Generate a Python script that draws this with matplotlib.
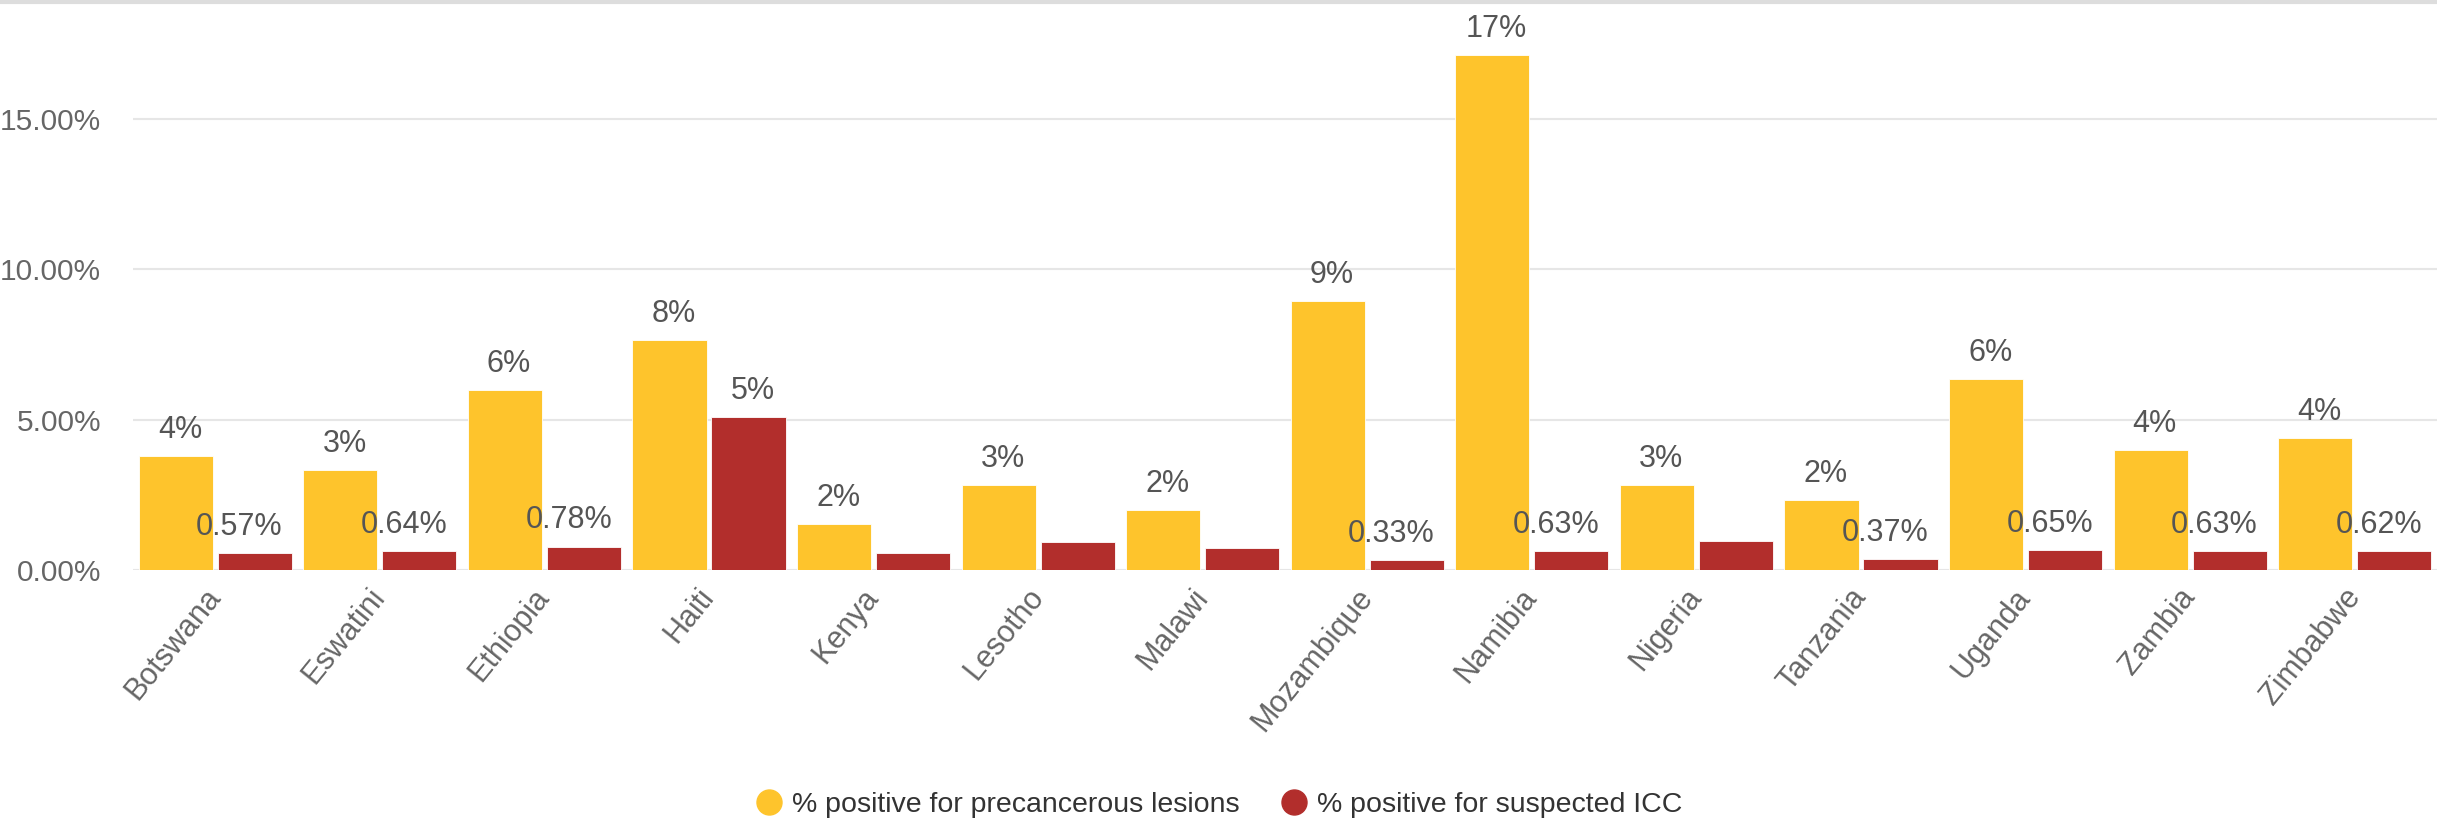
import matplotlib.pyplot as plt
import numpy as np
from matplotlib.lines import Line2D

plt.rcParams['font.family'] = ['Liberation Sans Narrow', 'Liberation Sans', 'DejaVu Sans']

countries = ['Botswana', 'Eswatini', 'Ethiopia', 'Haiti', 'Kenya', 'Lesotho', 'Malawi',
             'Mozambique', 'Namibia', 'Nigeria', 'Tanzania', 'Uganda', 'Zambia', 'Zimbabwe']
precancer = [3.80, 3.32, 6.00, 7.65, 1.53, 2.83, 2.00, 8.96, 17.12, 2.83, 2.33, 6.34, 3.98, 4.39]
icc = [0.57, 0.64, 0.78, 5.10, 0.58, 0.92, 0.74, 0.33, 0.63, 0.98, 0.37, 0.65, 0.63, 0.62]
# some icc labels are hidden because they collide with the neighbouring label
icc_show = [True, True, True, True, False, False, False, True, True, False, True, True, True, True]

yellow = '#fec42c'
red = '#b22e2c'
label_col = '#555555'

fig = plt.figure(figsize=(24.37, 8.25), dpi=100)
ax = fig.add_axes([133 / 2437, 1 - 570 / 825, 1 - 133 / 2437, 570 / 825])

x = np.arange(len(countries))
w = 0.45
off = 0.24
ax.bar(x - off, precancer, w, color=yellow, edgecolor='white', linewidth=0.6, zorder=3)
ax.bar(x + off, icc, w, color=red, edgecolor='white', linewidth=0.6, zorder=3)

# value labels
for xi, v in zip(x, precancer):
    ax.annotate('{:.0f}%'.format(v), (xi - off, v), xytext=(3, 13), textcoords='offset points',
                ha='center', va='baseline', fontsize=22, color=label_col)
for xi, v, show in zip(x, icc, icc_show):
    if not show:
        continue
    if v < 1:
        txt = '{:.2f}%'.format(v)
        dx = -11
    else:
        txt = '{:.0f}%'.format(v)
        dx = 3
    ax.annotate(txt, (xi + off, v), xytext=(dx, 13), textcoords='offset points',
                ha='center', va='baseline', fontsize=22, color=label_col)

ax.set_xlim(-0.5, len(countries) - 0.5)
ax.set_ylim(0, 18.96)
ax.set_yticks([0, 5, 10, 15])
ax.set_yticklabels(['0.00%', '5.00%', '10.00%', '15.00%'])
ax.grid(axis='y', color='#e6e6e6', linewidth=1.5, zorder=0)
ax.set_axisbelow(True)
for s in ax.spines.values():
    s.set_visible(False)
ax.tick_params(axis='y', length=0, pad=23, labelsize=21.5, labelcolor='#666666')
ax.tick_params(axis='x', length=0, pad=16, labelsize=22, labelcolor='#666666')
ax.set_xticks(x)
ax.set_xticklabels(countries, rotation=51, ha='right', va='center', rotation_mode='anchor')

# thin border along the top
fig.add_artist(Line2D([0, 1], [1 - 2 / 825, 1 - 2 / 825], color='#dddddd', linewidth=3))

handles = [Line2D([], [], marker='o', linestyle='', markersize=18, color=yellow),
           Line2D([], [], marker='o', linestyle='', markersize=18, color=red)]
fig.legend(handles, ['% positive for precancerous lesions', '% positive for suspected ICC'],
           loc='center', bbox_to_anchor=(0.5, 1 - 805 / 825), ncol=2, frameon=False,
           fontsize=20.5, labelcolor='#333333', handlelength=1.0, handletextpad=0.3,
           columnspacing=1.4)

fig.savefig('out.png', dpi=100)
